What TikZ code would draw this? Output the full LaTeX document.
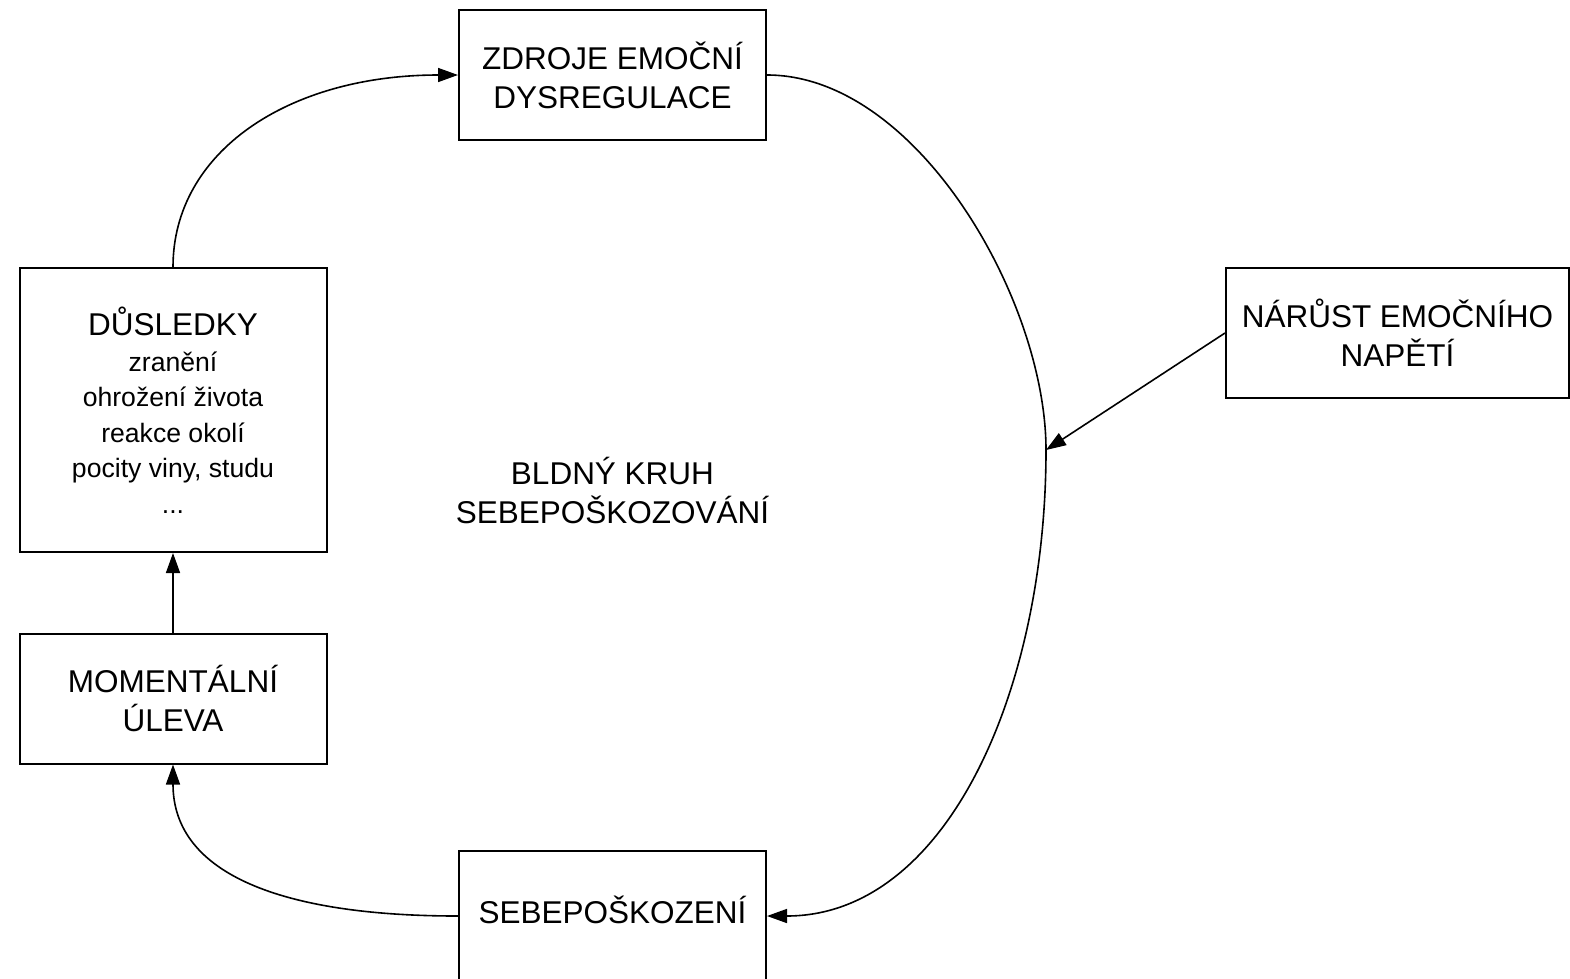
\documentclass[tikz,border=0pt]{standalone}
\usepackage{fontspec}
\setmainfont{Liberation Sans}
\usetikzlibrary{arrows.meta}
\tikzstyle{bx}=[rectangle,draw=black,line width=2pt,inner sep=0pt,align=center,
  minimum width=307pt,minimum height=130pt,font=\fontsize{31.5}{39}\selectfont]
\tikzstyle{txt}=[align=center,font=\fontsize{31.5}{39}\selectfont]
\tikzstyle{ar}=[line width=1.6pt,-{Triangle[length=20pt,width=14pt]}]
\tikzstyle{none}=[]
\newcommand{\smtxt}{\fontsize{26.6}{35.5}\selectfont}

\begin{document}
\begin{tikzpicture}[x=1pt, y=-1pt]
    \useasboundingbox (0,0) rectangle (1570,978);
            \node [style=bx] (0) at (612.5, 75) {ZDROJE EMOČNÍ\\DYSREGULACE};
            \node [style=bx, minimum width=343pt] (1) at (1397.5, 333) {NÁRŮST EMOČNÍHO\\NAPĚTÍ};
            \node [style=bx, text depth=12pt] (2) at (612.5, 916) {SEBEPOŠKOZENÍ};
            \node [style=bx] (3) at (173, 698.5) {MOMENTÁLNÍ\\ÚLEVA};
            \node [style=bx, minimum height=284pt, font=\smtxt] (4) at (173, 410)
                {{\fontsize{31.5}{39}\selectfont DŮSLEDKY}\\zranění\\ohrožení života\\reakce okolí\\pocity viny, studu\\...};
            \node [style=txt] (5) at (612.5, 490) {BLDNÝ KRUH\\SEBEPOŠKOZOVÁNÍ};
            \coordinate (6) at (1046, 450);
            \draw [style=ar] (4.north) .. controls +(0,-115) and +(-170,0) .. (0.west);
            \draw [style=ar] (0.east) .. controls +(150,0) and +(0,-150) .. (6)
                .. controls +(0,240) and +(180,0) .. (2.east);
            \draw [style=ar] (1.west) -- (6);
            \draw [style=ar] (2.west) .. controls +(-175,0) and +(0,110) .. (3.south);
            \draw [style=ar] (3.north) -- (4.south);
    \end{tikzpicture}
\end{document}
